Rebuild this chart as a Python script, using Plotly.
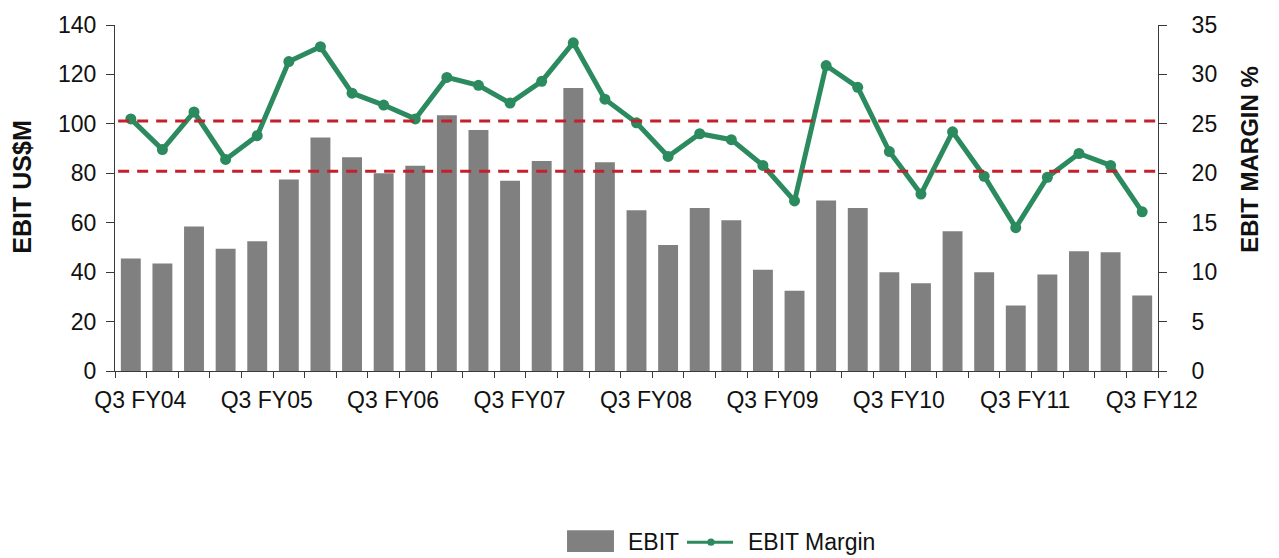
import plotly.graph_objects as go

# Fiscal quarters, Q3 FY04 through Q3 FY12
quarters = [
    "Q3 FY04", "Q4 FY04", "Q1 FY05", "Q2 FY05",
    "Q3 FY05", "Q4 FY05", "Q1 FY06", "Q2 FY06",
    "Q3 FY06", "Q4 FY06", "Q1 FY07", "Q2 FY07",
    "Q3 FY07", "Q4 FY07", "Q1 FY08", "Q2 FY08",
    "Q3 FY08", "Q4 FY08", "Q1 FY09", "Q2 FY09",
    "Q3 FY09", "Q4 FY09", "Q1 FY10", "Q2 FY10",
    "Q3 FY10", "Q4 FY10", "Q1 FY11", "Q2 FY11",
    "Q3 FY11", "Q4 FY11", "Q1 FY12", "Q2 FY12",
    "Q3 FY12",
]

# EBIT, US$ millions
ebit = [
    45.5, 43.5, 58.5, 49.5, 52.5, 77.5, 94.5, 86.5, 80, 83, 103.5,
    97.5, 77, 85, 114.5, 84.5, 65, 51, 66, 61, 41, 32.5,
    69, 66, 40, 35.5, 56.5, 40, 26.5, 39, 48.5, 48, 30.5,
]

# EBIT margin, %
ebit_margin = [
    25.5, 22.4, 26.2, 21.4, 23.8, 31.3, 32.8, 28.1, 26.9, 25.5, 29.7,
    28.9, 27.1, 29.3, 33.2, 27.5, 25.1, 21.7, 24.0, 23.4, 20.8, 17.2,
    30.9, 28.7, 22.2, 17.9, 24.2, 19.7, 14.5, 19.6, 22.0, 20.8, 16.1,
]

# Margin reference band (right axis)
margin_band = [25.3, 20.2]

left_ticks = [0, 20, 40, 60, 80, 100, 120, 140]
right_ticks = [0, 5, 10, 15, 20, 25, 30, 35]

BAR_GREY = "#808080"
GREEN = "#2b8a5e"
RED = "#c4202c"
AXIS = "#3a3a3a"
FONT = "Liberation Sans, Arial, sans-serif"
FS = 23

xpos = list(range(len(quarters)))
label_idx = [i for i, q in enumerate(quarters) if q.startswith("Q3")]

fig = go.Figure()

fig.add_trace(go.Bar(
    x=xpos, y=ebit, name="EBIT",
    marker=dict(color=BAR_GREY, line=dict(width=0)),
    yaxis="y",
))

fig.add_trace(go.Scatter(
    x=xpos, y=ebit_margin, name="EBIT Margin",
    mode="lines+markers",
    line=dict(color=GREEN, width=5),
    marker=dict(color=GREEN, size=11),
    yaxis="y2",
))

# dashed reference lines on the margin axis
for level in margin_band:
    fig.add_shape(
        type="line", xref="x", yref="y2",
        x0=-0.4, x1=len(quarters) - 0.5, y0=level, y1=level,
        line=dict(color=RED, width=3, dash="11px,8px"),
        layer="above",
    )

# legend drawn below the plot
fig.add_shape(type="rect", xref="paper", yref="paper",
              x0=0.4334, x1=0.4784, y0=-0.523, y1=-0.4606,
              fillcolor=BAR_GREY, line=dict(width=0))
fig.add_annotation(xref="paper", yref="paper", x=0.4900, y=-0.4946,
                   text="EBIT", showarrow=False, xanchor="left",
                   yanchor="middle", font=dict(size=FS, color="#111"))
fig.add_shape(type="line", xref="paper", yref="paper",
              x0=0.5484, x1=0.5925, y0=-0.4946, y1=-0.4946,
              line=dict(color=GREEN, width=3))
fig.add_shape(type="circle", xref="paper", yref="paper",
              x0=0.5714 - 0.0035, x1=0.5714 + 0.0035,
              y0=-0.4946 - 0.0104, y1=-0.4946 + 0.0104,
              fillcolor=GREEN, line=dict(width=0))
fig.add_annotation(xref="paper", yref="paper", x=0.6050, y=-0.4946,
                   text="EBIT Margin", showarrow=False, xanchor="left",
                   yanchor="middle", font=dict(size=FS, color="#111"))

# axis titles
fig.add_annotation(xref="paper", yref="paper", x=-0.1045, y=0.53,
                   text="<b>EBIT US$M</b>", textangle=-90, showarrow=False,
                   font=dict(size=25, color="#111"))
fig.add_annotation(xref="paper", yref="paper", x=1.103, y=0.613,
                   text="<b>EBIT MARGIN %</b>", textangle=-90, showarrow=False,
                   font=dict(size=24, color="#111"))

fig.update_layout(
    width=1279, height=558,
    margin=dict(l=115, r=121, t=18, b=187),
    plot_bgcolor="white", paper_bgcolor="white",
    font=dict(family=FONT, size=FS, color="#111"),
    showlegend=False,
    bargap=0.37,
    xaxis=dict(
        range=[-0.5, len(quarters) - 0.5],
        tickmode="array",
        tickvals=[i + 0.3 for i in label_idx],
        ticktext=[quarters[i] for i in label_idx],
        ticks="outside", ticklen=8, tickcolor="rgba(0,0,0,0)",
        showline=True, linecolor=AXIS, linewidth=1,
        showgrid=False, zeroline=False,
        minor=dict(
            tickmode="array",
            tickvals=[k - 0.5 for k in range(len(quarters) + 1)],
            ticks="outside", ticklen=6, tickcolor=AXIS, tickwidth=1,
            showgrid=False,
        ),
    ),
    yaxis=dict(
        range=[0, 140], tickmode="array", tickvals=left_ticks,
        ticks="outside", ticklen=8, tickcolor=AXIS,
        showline=True, linecolor=AXIS, linewidth=1,
        showgrid=False, zeroline=False,
        ticklabelstandoff=5,
    ),
    yaxis2=dict(
        range=[0, 35], tickmode="array", tickvals=right_ticks,
        overlaying="y", side="right",
        ticks="outside", ticklen=8, tickcolor=AXIS,
        showline=True, linecolor=AXIS, linewidth=1,
        showgrid=False, zeroline=False,
        ticklabelstandoff=20,
    ),
)

fig.write_html("out.html")
